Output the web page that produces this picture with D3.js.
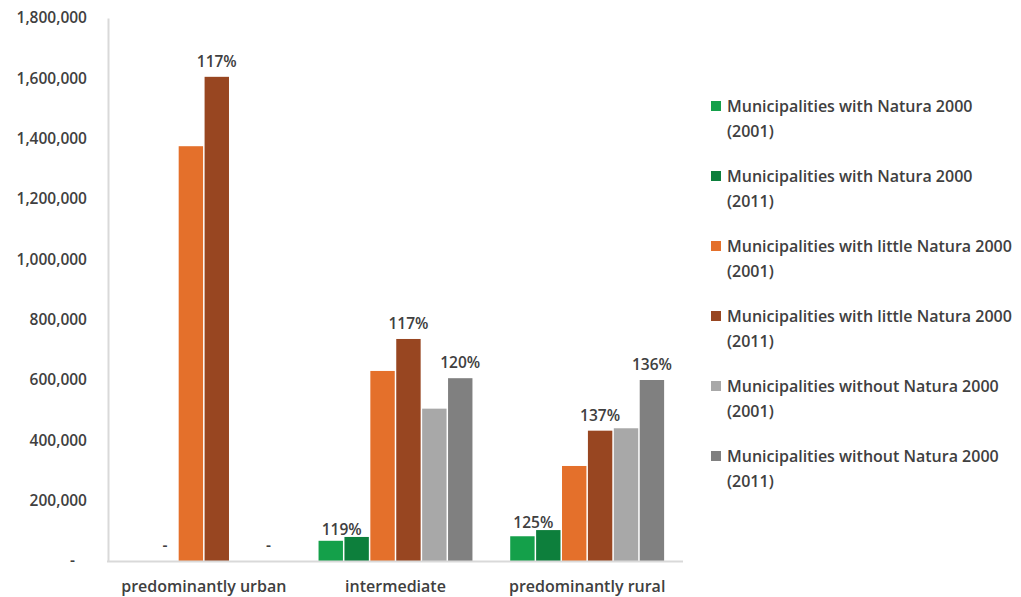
<!DOCTYPE html>
<html>
<head>
<meta charset="utf-8">
<script src="https://cdn.jsdelivr.net/npm/d3@7"></script>
<style>
  html, body { margin: 0; padding: 0; background: #fff; }
  svg { display: block; font-family: "Open Sans", sans-serif; font-weight: 600; }
</style>
</head>
<body>
<svg id="chart" width="1021" height="597"></svg>
<script>
// Population by settlement type, 2001 vs 2011
const categories = ["predominantly urban", "intermediate", "predominantly rural"];
const seriesNames = [
  "Municipalities with Natura 2000 (2001)",
  "Municipalities with Natura 2000 (2011)",
  "Municipalities with little Natura 2000 (2001)",
  "Municipalities with little Natura 2000 (2011)",
  "Municipalities without Natura 2000 (2001)",
  "Municipalities without Natura 2000 (2011)"
];
const withNatura2001    = [0, 67000, 82000];
const withNatura2011    = [0, 79700, 102500];
const littleNatura2001  = [1375000, 630000, 315000];
const littleNatura2011  = [1605000, 736000, 432000];
const withoutNatura2001 = [0, 505000, 440000];
const withoutNatura2011 = [0, 606000, 600000];
const yTicks = [0, 200000, 400000, 600000, 800000, 1000000, 1200000, 1400000, 1600000, 1800000];

const seriesValues = [withNatura2001, withNatura2011, littleNatura2001, littleNatura2011, withoutNatura2001, withoutNatura2011];
const colors = ["#14a04a", "#0d7f3c", "#e4702b", "#984621", "#a8a8a8", "#808080"];
const textColor = "#404040";

const svg = d3.select("#chart");
const plotLeft = 108, plotRight = 683, plotTop = 18, plotBottom = 561;

const x0 = d3.scaleBand().domain(categories).range([plotLeft, plotRight]).paddingInner(0).paddingOuter(0);
const x1 = d3.scaleBand().domain(d3.range(seriesNames.length)).range([0, x0.bandwidth()]).paddingInner(0).paddingOuter(0.7);
const y = d3.scaleLinear().domain([0, 1800000]).range([plotBottom, plotTop]);

// y axis
const yAxis = d3.axisLeft(y)
  .tickValues(yTicks)
  .tickSize(0)
  .tickPadding(21)
  .tickFormat(d => d === 0 ? "-\u00a0\u00a0\u00a0" : d3.format(",")(d));
const gy = svg.append("g").attr("transform", `translate(${plotLeft},0)`).call(yAxis);
gy.select(".domain").attr("stroke", "#d9d9d9").attr("stroke-width", 2);
gy.selectAll("text")
  .attr("font-size", 15.5)
  .attr("fill", textColor)
  .attr("font-family", "Open Sans, sans-serif")
  .attr("font-weight", 600);

// bars
const groups = svg.append("g").selectAll("g")
  .data(categories)
  .join("g")
  .attr("transform", d => `translate(${x0(d)},0)`);

groups.selectAll("rect")
  .data((c, ci) => seriesValues.map((vals, si) => ({ si, v: vals[ci] })))
  .join("rect")
  .attr("x", d => x1(d.si) + 0.75)
  .attr("width", x1.bandwidth() - 1.5)
  .attr("y", d => y(d.v))
  .attr("height", d => plotBottom - y(d.v))
  .attr("fill", d => colors[d.si]);

// x axis baseline
svg.append("line")
  .attr("x1", plotLeft - 1).attr("x2", plotRight)
  .attr("y1", plotBottom + 0.5).attr("y2", plotBottom + 0.5)
  .attr("stroke", "#d9d9d9").attr("stroke-width", 2);

// growth labels on the 2011 bars
const pct = d3.format(".0%");
const greenNudge = { dx: -15, dy: 8 };
groups.selectAll("text.growth")
  .data((c, ci) => [1, 3, 5].map(si => {
    const before = seriesValues[si - 1][ci], after = seriesValues[si][ci];
    return { si, v: after, label: before > 0 ? pct(after / before) : "-" };
  }))
  .join("text")
  .attr("class", "growth")
  .attr("x", d => x1(d.si) + x1.bandwidth() / 2 + (d.si === 1 && d.v > 0 ? greenNudge.dx : 0))
  .attr("y", d => y(d.v) - 10 + (d.si === 1 && d.v > 0 ? greenNudge.dy : 0))
  .attr("text-anchor", "middle")
  .attr("font-size", 15.5)
  .attr("fill", textColor)
  .text(d => d.label);

// category labels
svg.append("g").selectAll("text")
  .data(categories)
  .join("text")
  .attr("x", d => x0(d) + x0.bandwidth() / 2)
  .attr("y", 592)
  .attr("text-anchor", "middle")
  .attr("font-size", 16)
  .attr("fill", textColor)
  .text(d => d);

// legend
const legend = svg.append("g").selectAll("g")
  .data(seriesNames)
  .join("g")
  .attr("transform", (d, i) => `translate(711,${106 + i * 70})`);
legend.append("rect")
  .attr("x", 0).attr("y", -5).attr("width", 10).attr("height", 10)
  .attr("fill", (d, i) => colors[i]);
legend.append("text")
  .attr("x", 16).attr("y", 5.5)
  .attr("font-size", 16)
  .attr("fill", textColor)
  .text(d => d.slice(0, d.lastIndexOf(" (")));
legend.append("text")
  .attr("x", 16).attr("y", 30.5)
  .attr("font-size", 16)
  .attr("fill", textColor)
  .text(d => d.slice(d.lastIndexOf(" (") + 1));
</script>
</body>
</html>
